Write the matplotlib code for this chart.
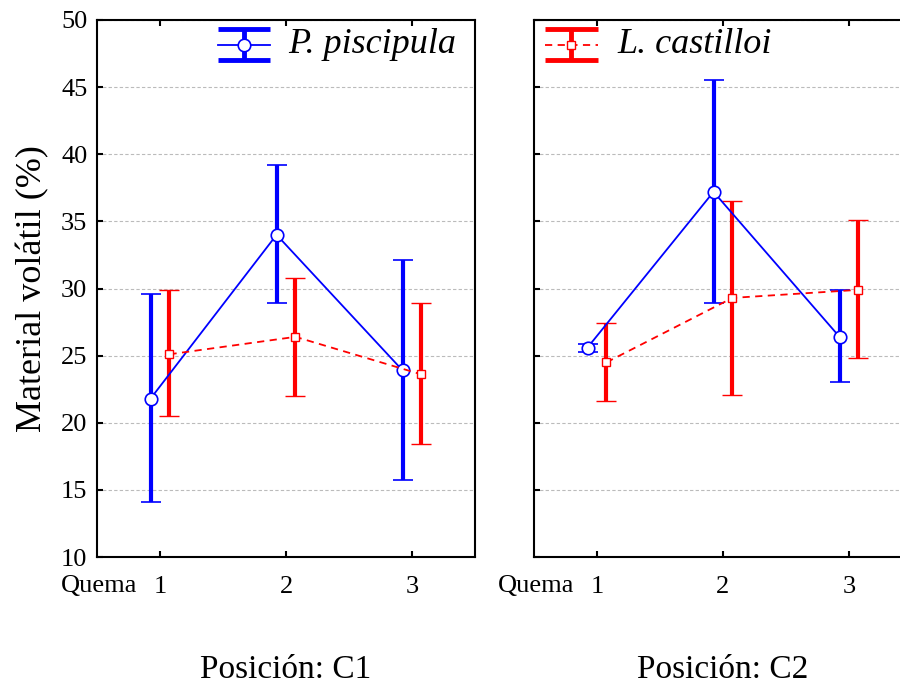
import matplotlib
matplotlib.use("Agg")
import matplotlib.pyplot as plt
import numpy as np

# ---------------------------------------------------------------------------
# Data
# ---------------------------------------------------------------------------
QUEMA = [1, 2, 3]
POSICIONES = ["Posición: C1", "Posición: C2"]
SPECIES = ["P. piscipula", "L. castilloi"]

# mean, lower, upper per panel
PISC_MEAN = [[21.8, 34.0, 23.9], [25.6, 37.2, 26.4]]
PISC_LOW = [[14.1, 28.9, 15.7], [25.3, 28.9, 23.0]]
PISC_HIGH = [[29.6, 39.2, 32.1], [25.9, 45.5, 29.9]]

CAST_MEAN = [[25.1, 26.4, 23.6], [24.5, 29.3, 29.9]]
CAST_LOW = [[20.5, 22.0, 18.4], [21.6, 22.1, 24.8]]
CAST_HIGH = [[29.9, 30.8, 28.9], [27.4, 36.5, 35.1]]

Y_TICKS = [10, 15, 20, 25, 30, 35, 40, 45, 50]

plt.rcParams["font.family"] = ["Liberation Serif", "DejaVu Serif"]

fig = plt.figure(figsize=(9, 6.87), dpi=100)
ax_left = fig.add_axes([0.1078, 0.1892, 0.42, 0.7817])
ax_right = fig.add_axes([0.5933, 0.1892, 0.42, 0.7817])
axes = [ax_left, ax_right]

offset = 0.075
x = np.array(QUEMA, dtype=float)

STYLES = [
    dict(color="blue", ls="-", marker="o", ms=9, mew=1.2),
    dict(color="red", ls=(0, (4, 3)), marker="s", ms=6, mew=1.0),
]


def manual_legend(ax, style, label, x0, x1, xt):
    """Legend entry drawn like the original: wide caps + thick bar."""
    c = style["color"]
    tr = ax.transAxes
    xm = (x0 + x1) / 2
    kw = dict(transform=tr, clip_on=False, solid_capstyle="butt")
    ax.plot([x0, x1], [0.983, 0.983], color=c, lw=3.5, **kw)
    ax.plot([x0, x1], [0.925, 0.925], color=c, lw=3.5, **kw)
    ax.plot([xm, xm], [0.925, 0.983], color=c, lw=3.5, **kw)
    ax.plot([x0, x1], [0.954, 0.954], color=c, lw=1.3, ls=style["ls"],
            transform=tr, clip_on=False)
    ax.plot([xm], [0.954], color=c, marker=style["marker"], ms=style["ms"],
            mfc="white", mec=c, mew=style["mew"], transform=tr,
            clip_on=False, zorder=5)
    ax.text(xt, 0.954, label, transform=tr, ha="left", va="center",
            fontsize=26, style="italic")


for i, ax in enumerate(axes):
    pm = np.array(PISC_MEAN[i])
    cm = np.array(CAST_MEAN[i])
    perr = [pm - np.array(PISC_LOW[i]), np.array(PISC_HIGH[i]) - pm]
    cerr = [cm - np.array(CAST_LOW[i]), np.array(CAST_HIGH[i]) - cm]

    ax.grid(axis="y", color="#bbbbbb", linestyle=(0, (3, 2)), linewidth=0.8)
    ax.set_axisbelow(True)

    for xs, means, err, st in [(x - offset, pm, perr, STYLES[0]),
                               (x + offset, cm, cerr, STYLES[1])]:
        ax.errorbar(xs, means, yerr=err, color=st["color"],
                    ecolor=st["color"], elinewidth=3, capsize=7,
                    capthick=3, linewidth=1.3, linestyle=st["ls"],
                    marker=st["marker"], markersize=st["ms"],
                    markerfacecolor="white", markeredgecolor=st["color"],
                    markeredgewidth=st["mew"], zorder=3)

    ax.set_xlim(0.5, 3.5)
    ax.set_ylim(10, 50)
    ax.set_xticks(QUEMA)
    ax.set_yticks(Y_TICKS)
    ax.tick_params(direction="in", length=4, width=1.5, top=True,
                   labelsize=19, pad=14)
    ax.tick_params(axis="y", labelsize=19, pad=7)
    for s in ax.spines.values():
        s.set_linewidth(1.5)

    ax.text(0.106, -0.054, "Quema", transform=ax.transAxes, ha="right",
            va="center", fontsize=19)
    ax.text(0.5, -0.21, POSICIONES[i], transform=ax.transAxes, ha="center",
            va="center", fontsize=24)

manual_legend(ax_left, STYLES[0], SPECIES[0], 0.32, 0.458, 0.505)
manual_legend(ax_right, STYLES[1], SPECIES[1], 0.029, 0.169, 0.22)

ax_right.tick_params(axis="y", labelleft=False)
ax_left.set_ylabel("Material volátil (%)", fontsize=26, labelpad=8)

fig.savefig("out.png", dpi=100)
